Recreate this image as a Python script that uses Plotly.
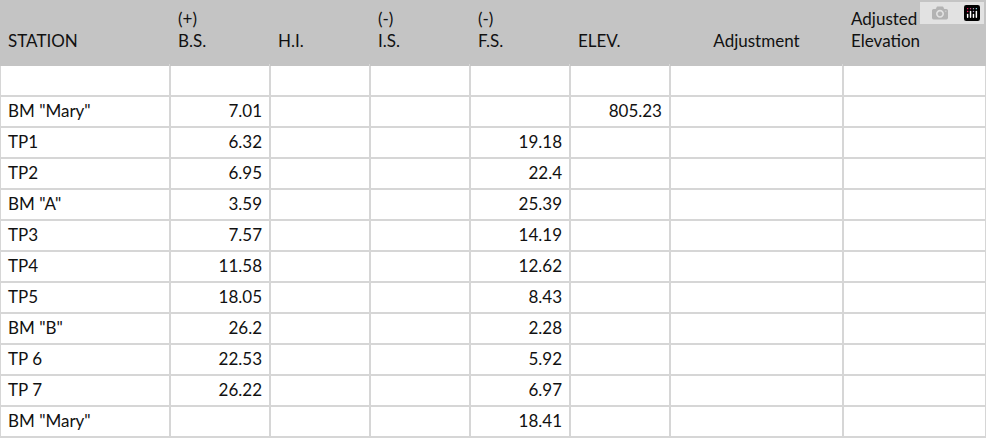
import plotly.graph_objects as go

headers = ["&nbsp;<br>STATION", "(+)<br>B.S.", "&nbsp;<br>H.I.", "(-)<br>I.S.", "(-)<br>F.S.", "&nbsp;<br>ELEV.", "&nbsp;<br>Adjustment", "Adjusted<br>Elevation"]
stations = ["", 'BM "Mary"', "TP1", "TP2", 'BM "A"', "TP3", "TP4", "TP5", 'BM "B"', "TP 6", "TP 7", 'BM "Mary"']
bs = ["", "7.01", "6.32", "6.95", "3.59", "7.57", "11.58", "18.05", "26.2", "22.53", "26.22", ""]
fs = ["", "", "19.18", "22.4", "25.39", "14.19", "12.62", "8.43", "2.28", "5.92", "6.97", "18.41"]
elev = ["", "805.23"] + [""] * 10
blank = [""] * 12
widths = [170, 100, 100, 100, 100, 100, 173, 143]

fig = go.Figure(go.Table(
    columnwidth=widths,
    header=dict(values=headers, fill_color="#c4c4c4", line=dict(color="#c4c4c4", width=1),
                align=["left", "left", "left", "left", "left", "left", "center", "left"],
                font=dict(family="Lato", size=17, color="#111111"), height=65),
    cells=dict(values=[stations, bs, blank, blank, fs, elev, blank, blank],
               fill_color="white", line=dict(color="#d6d6d6", width=1.5),
               align=["left", "right", "right", "right", "right", "right", "right", "right"],
               font=dict(family="Lato", size=17, color="#111111"), height=31),
))
fig.update_layout(width=986, height=439, margin=dict(l=0, r=0, t=0, b=0), paper_bgcolor="white")
fig.write_html("out.html", post_script="document.body.style.margin='0';")
